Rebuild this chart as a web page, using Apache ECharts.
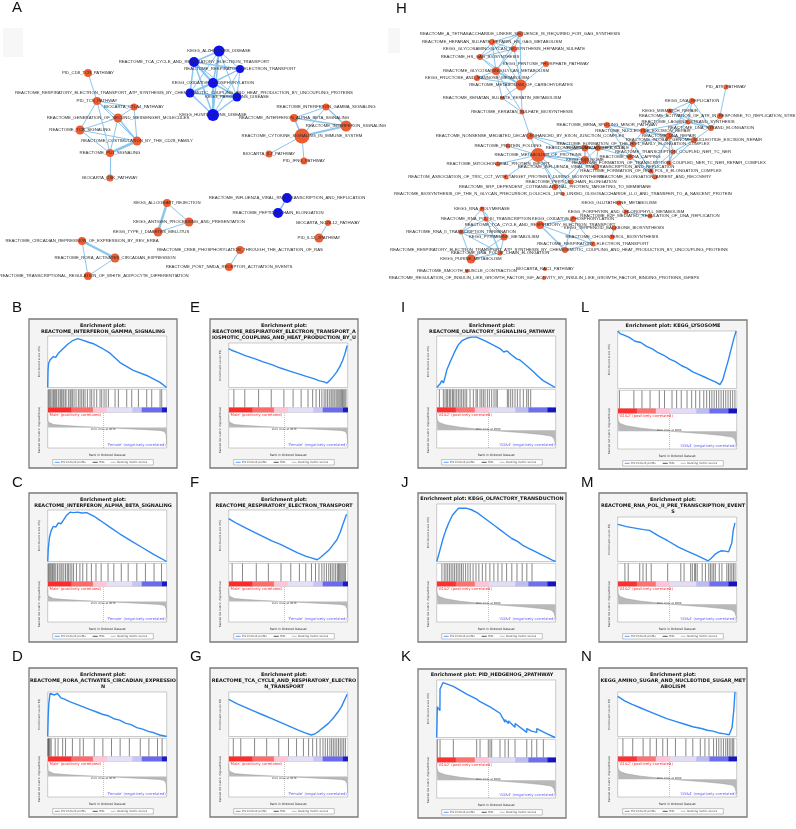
<!DOCTYPE html>
<html><head><meta charset="utf-8">
<script src="https://cdn.jsdelivr.net/npm/echarts@6/dist/echarts.min.js"></script>
<style>html,body{margin:0;padding:0;background:#fff}#c{width:796px;height:829px}</style>
</head><body><div id="c"></div>
<script>
// ======================= DATA =======================
const netANodes = [
 ['PID_CD8_TCR_PATHWAY',88,73,8,'o'],
 ['PID_TCR_PATHWAY',97,101,8,'o'],
 ['BIOCARTA_CTLA4_PATHWAY',134,107,7,'o'],
 ['REACTOME_GENERATION_OF_SECOND_MESSENGER_MOLECULES',118,118,9,'o'],
 ['REACTOME_TCR_SIGNALING',80,130,9,'o'],
 ['REACTOME_COSTIMULATION_BY_THE_CD28_FAMILY',137,141,9,'o'],
 ['REACTOME_PD1_SIGNALING',110,153,8,'o'],
 ['BIOCARTA_CSK_PATHWAY',110,178,7,'o'],
 ['REACTOME_RESPIRATORY_ELECTRON_TRANSPORT_ATP_SYNTHESIS_BY_CHEMIOSMOTIC_COUPLING_AND_HEAT_PRODUCTION_BY_UNCOUPLING_PROTEINS',190,93,9,'b'],
 ['KEGG_ALZHEIMERS_DISEASE',219,51,11,'b'],
 ['REACTOME_TCA_CYCLE_AND_RESPIRATORY_ELECTRON_TRANSPORT',194,62,10,'b'],
 ['REACTOME_RESPIRATORY_ELECTRON_TRANSPORT',240,69,8,'b'],
 ['KEGG_OXIDATIVE_PHOSPHORYLATION',213,83,10,'b'],
 ['KEGG_PARKINSONS_DISEASE',237,97,9,'b'],
 ['KEGG_HUNTINGTONS_DISEASE',213,115,12,'b'],
 ['REACTOME_INTERFERON_GAMMA_SIGNALING',326,107,7,'o'],
 ['REACTOME_INTERFERON_ALPHA_BETA_SIGNALING',294,118,8,'o'],
 ['REACTOME_INTERFERON_SIGNALING',346,126,11,'o'],
 ['REACTOME_CYTOKINE_SIGNALING_IN_IMMUNE_SYSTEM',302,136,15,'o'],
 ['BIOCARTA_IL7_PATHWAY',269,154,7,'o'],
 ['PID_IFNG_PATHWAY',304,161,7,'o'],
 ['KEGG_ALLOGRAFT_REJECTION',167,203,8,'o'],
 ['KEGG_ANTIGEN_PROCESSING_AND_PRESENTATION',189,222,9,'o'],
 ['KEGG_TYPE_I_DIABETES_MELLITUS',158,232,9,'o'],
 ['REACTOME_CIRCADIAN_REPRESSION_OF_EXPRESSION_BY_REV_ERBA',82,241,8,'o'],
 ['REACTOME_RORA_ACTIVATES_CIRCADIAN_EXPRESSION',115,258,9,'o'],
 ['REACTOME_TRANSCRIPTIONAL_REGULATION_OF_WHITE_ADIPOCYTE_DIFFERENTIATION',88,276,8,'o'],
 ['REACTOME_CREB_PHOSPHORYLATION_THROUGH_THE_ACTIVATION_OF_RAS',240,250,8,'o'],
 ['REACTOME_POST_NMDA_RECEPTOR_ACTIVATION_EVENTS',229,267,8,'o'],
 ['REACTOME_INFLUENZA_VIRAL_RNA_TRANSCRIPTION_AND_REPLICATION',287,198,10,'b'],
 ['REACTOME_PEPTIDE_CHAIN_ELONGATION',278,213,10,'b'],
 ['BIOCARTA_NO2IL12_PATHWAY',328,223,6,'o'],
 ['PID_IL12_2PATHWAY',319,238,9,'o']
];
const netAEdges = [
 [0,1,1],[1,2,1],[1,3,1],[1,4,1],[1,6,1],[1,5,1],[2,3,1],[2,5,1],[3,4,1],[3,5,1.5],[3,6,1],[4,6,1],[4,5,1],[5,6,2.5],[6,7,1.2],
 [8,9,1],[8,10,1.5],[8,11,1],[8,12,2],[8,13,1.5],[8,14,1.5],[9,10,1.5],[9,11,1],[9,12,1.5],[9,13,1],[9,14,1.5],
 [10,11,1.5],[10,12,2],[10,13,1],[10,14,1.5],[11,12,1],[11,13,1],[11,14,1],[12,13,1.5],[12,14,2],[13,14,1.5],
 [15,16,1],[15,17,1.5],[15,18,1],[16,17,1.5],[16,18,1.5],[17,18,2],[18,19,1],[18,20,1],
 [21,22,1],[21,23,2.5],[22,23,1],[24,25,2.5],[24,26,1],[25,26,1],[27,28,1],[29,30,1.5],[31,32,1]
];
const netHNodes = [
 ['REACTOME_A_TETRASACCHARIDE_LINKER_SEQUENCE_IS_REQUIRED_FOR_GAG_SYNTHESIS',520,34,6,'o'],
 ['REACTOME_HEPARAN_SULFATE_HEPARIN_HS_GAG_METABOLISM',492,42,6,'o'],
 ['KEGG_GLYCOSAMINOGLYCAN_BIOSYNTHESIS_HEPARAN_SULFATE',514,49,6,'o'],
 ['REACTOME_HS_GAG_BIOSYNTHESIS',480,57,6,'o'],
 ['KEGG_PENTOSE_PHOSPHATE_PATHWAY',546,64,6,'o'],
 ['REACTOME_GLYCOSAMINOGLYCAN_METABOLISM',496,71,8,'o'],
 ['KEGG_FRUCTOSE_AND_MANNOSE_METABOLISM',477,78,6,'o'],
 ['REACTOME_METABOLISM_OF_CARBOHYDRATES',521,85,11,'o'],
 ['REACTOME_KERATAN_SULFATE_KERATIN_METABOLISM',502,98,4,'o'],
 ['REACTOME_KERATAN_SULFATE_BIOSYNTHESIS',522,112,5,'o'],
 ['REACTOME_NONSENSE_MEDIATED_DECAY_ENHANCED_BY_EXON_JUNCTION_COMPLEX',530,136,7,'o'],
 ['REACTOME_PROTEIN_FOLDING',508,146,5,'o'],
 ['REACTOME_METABOLISM_OF_PROTEINS',538,155,14,'o'],
 ['REACTOME_MITOCHONDRIAL_PROTEIN_IMPORT',498,164,5,'o'],
 ['REACTOM_ASSOCIATION_OF_TRIC_CCT_WITH_TARGET_PROTEINS_DURING_BIOSYNTHESIS',506,177,5,'o'],
 ['REACTOME_PEPTIDE_CHAIN_ELONGATION',571,182,5,'o'],
 ['REACTOME_SRP_DEPENDENT_COTRANSLATIONAL_PROTEIN_TARGETING_TO_MEMBRANE',555,187,6,'o'],
 ['REACTOME_BIOSYNTHESIS_OF_THE_N_GLYCAN_PRECURSOR_DOLICHOL_LIPID_LINKED_OLIGOSACCHARIDE_LLO_AND_TRANSFER_TO_A_NASCENT_PROTEIN',563,194,4,'o'],
 ['REACTOME_INFLUENZA_LIFE_CYCLE',585,148,7,'o'],
 ['KEGG_RIBOSOME',585,160,8,'o'],
 ['REACTOME_INFLUENZA_VIRAL_RNA_TRANSCRIPTION_AND_REPLICATION',596,167,6,'o'],
 ['REACTOME_MRNA_SPLICING_MINOR_PATHWAY',607,125,6,'o'],
 ['REACTOME_NUCLEOTIDE_EXCISION_REPAIR',643,131,6,'o'],
 ['REACTOME_DNA_REPAIR',669,136,7,'o'],
 ['REACTOME_GLOBAL_GENOME_NUCLEOTIDE_EXCISION_REPAIR',694,140,6,'o'],
 ['REACTOME_FORMATION_OF_THE_HIV1_EARLY_ELONGATION_COMPLEX',633,144,6,'o'],
 ['REACTOME_HIV_LIFE_CYCLE',598,148,6,'o'],
 ['REACTOME_TRANSCRIPTION_COUPLED_NER_TC_NER',673,152,5,'o'],
 ['REACTOME_MRNA_CAPPING',630,157,6,'o'],
 ['REACTOME_FORMATION_OF_TRANSCRIPTION_COUPLED_NER_TC_NER_REPAIR_COMPLEX',669,163,5,'o'],
 ['REACTOME_FORMATION_OF_RNA_POL_II_ELONGATION_COMPLEX',651,171,5,'o'],
 ['REACTOME_ELONGATION_ARREST_AND_RECOVERY',655,177,5,'o'],
 ['PID_ATR_PATHWAY',726,87,5,'o'],
 ['KEGG_DNA_REPLICATION',692,101,6,'o'],
 ['KEGG_MISMATCH_REPAIR',670,111,5,'o'],
 ['REACTOME_ACTIVATION_OF_ATR_IN_RESPONSE_TO_REPLICATION_STRESS',720,116,6,'o'],
 ['REACTOME_LAGGING_STRAND_SYNTHESIS',688,122,5,'o'],
 ['REACTOME_DNA_STRAND_ELONGATION',711,128,6,'o'],
 ['KEGG_GLUTATHIONE_METABOLISM',619,203,5,'o'],
 ['KEGG_PORPHYRIN_AND_CHLOROPHYLL_METABOLISM',626,212,5,'o'],
 ['REACTOME_E2F_MEDIATED_REGULATION_OF_DNA_REPLICATION',650,216,5,'o'],
 ['KEGG_TERPENOID_BACKBONE_BIOSYNTHESIS',614,228,5,'o'],
 ['REACTOME_CHOLESTEROL_BIOSYNTHESIS',612,237,5,'o'],
 ['KEGG_OXIDATIVE_PHOSPHORYLATION',573,219,6,'o'],
 ['REACTOME_TCA_CYCLE_AND_RESPIRATORY_ELECTRON_TRANSPORT',540,225,8,'o'],
 ['REACTOME_RESPIRATORY_ELECTRON_TRANSPORT',593,244,5,'o'],
 ['REACTOME_RESPIRATORY_ELECTRON_TRANSPORT_ATP_SYNTHESIS_BY_CHEMIOSMOTIC_COUPLING_AND_HEAT_PRODUCTION_BY_UNCOUPLING_PROTEINS',565,250,6,'o'],
 ['KEGG_RNA_POLYMERASE',482,209,5,'o'],
 ['REACTOME_RNA_POL_III_TRANSCRIPTION',486,219,5,'o'],
 ['REACTOME_RNA_II_TRANSCRIPTION_TERMINATION',461,232,5,'o'],
 ['KEGG_PYRIMIDINE_METABOLISM',504,237,7,'o'],
 ['REACTOME_RNA_POL_III_CHAIN_ELONGATION',500,253,5,'o'],
 ['KEGG_PURINE_METABOLISM',471,259,9,'o'],
 ['REACTOME_SMOOTH_MUSCLE_CONTRACTION',467,271,4,'o'],
 ['BIOCARTA_RAC1_PATHWAY',545,269,4,'o'],
 ['REACTOME_REGULATION_OF_INSULIN_LIKE_GROWTH_FACTOR_IGF_ACTIVITY_BY_INSULIN_LIKE_GROWTH_FACTOR_BINDING_PROTEINS_IGFBPS',544,278,4,'o']
];
const netHEdges = [
 [0,1,1],[0,2,1],[0,3,1],[0,5,1],[0,7,1],[1,2,1],[1,3,1],[1,5,1],[1,7,1],[2,3,1],[2,5,1],[2,7,1],[3,5,1],[3,7,1],
 [5,6,1],[5,7,1.5],[6,7,1],[4,7,1],[5,8,1],[7,8,1],[7,9,1],[8,9,1],[5,9,1],[9,10,1],
 [10,12,1],[11,12,1],[12,13,1],[12,14,1],[12,15,1],[12,16,1],[12,17,1],[10,18,1],[10,19,1],[12,18,1],[12,19,1.5],[12,20,1],
 [15,19,1],[16,19,1],[15,16,1],[18,19,1.5],[18,20,1],[19,20,1],[18,26,1],[20,26,1],[19,26,1],
 [21,22,1],[21,25,1],[21,28,1],[22,23,1.5],[22,24,1],[22,27,1],[23,24,1],[23,27,1],[23,29,1],[24,27,1],[24,29,1],[27,29,1.5],
 [25,28,1],[25,30,1],[25,31,1],[28,30,1],[28,31,1],[30,31,1],[25,26,1],[26,28,1],[22,25,1],[23,25,1],[23,30,1],[27,30,1],
 [32,35,1],[33,34,1],[33,36,1],[33,37,1],[34,36,1],[34,37,1],[36,37,1.5],[35,37,1],[33,23,1],[36,23,1],[34,22,1],[37,24,1],[36,22,1],
 [38,39,1],[39,40,1],[41,42,1],
 [43,44,1],[43,45,1],[43,46,1],[44,45,1],[44,46,1.5],[45,46,1],
 [47,48,1],[47,49,1],[47,50,1],[47,51,1],[48,49,1],[48,50,1],[48,51,1],[49,50,1],[49,51,1],[49,52,1],[50,51,1],[50,52,1],[51,52,1]
];

const rankTicks = [0,2500,5000,7500,10000,12500,15000,17500,20000];

// Enrichment score curves: [rank, ES]
const esB = [[0,0],[60,0.2],[150,0.28],[400,0.32],[975,0.36],[1400,0.35],[1850,0.4],[2140,0.38],[2715,0.455],[3580,0.51],[4450,0.55],[5220,0.57],[5910,0.555],[7000,0.53],[7930,0.51],[9400,0.46],[10840,0.4],[12580,0.29],[14890,0.2],[17220,0.14],[19540,0.06],[20700,0]];
const esC = [[0,0],[100,0.15],[300,0.28],[600,0.36],[975,0.41],[1400,0.4],[1845,0.45],[2300,0.44],[2715,0.48],[3300,0.54],[3880,0.575],[4500,0.57],[5200,0.575],[5900,0.565],[6780,0.57],[8000,0.53],[9100,0.48],[10800,0.4],[12580,0.32],[14500,0.24],[16500,0.16],[18500,0.08],[20700,0]];
const esD = [[0,0],[80,0.25],[200,0.45],[400,0.58],[700,0.6],[1200,0.56],[1700,0.58],[2300,0.52],[3000,0.5],[3800,0.47],[4500,0.45],[5500,0.42],[6500,0.39],[7500,0.36],[8500,0.33],[9500,0.3],[10500,0.28],[11500,0.24],[12500,0.22],[13500,0.18],[14500,0.16],[15500,0.12],[16500,0.1],[17500,0.07],[18500,0.05],[19500,0.02],[20700,0]];
const esE = [[0,0],[500,-0.03],[1500,-0.07],[3000,-0.13],[4500,-0.18],[6000,-0.24],[7500,-0.29],[9000,-0.35],[10500,-0.4],[12000,-0.45],[13500,-0.5],[14800,-0.54],[15800,-0.58],[16600,-0.6],[17100,-0.62],[17600,-0.57],[18200,-0.5],[18800,-0.42],[19300,-0.33],[19800,-0.22],[20200,-0.1],[20600,0.05]];
const esF = [[0,0],[500,-0.02],[1500,-0.06],[3000,-0.11],[4500,-0.16],[6000,-0.21],[7500,-0.26],[9000,-0.3],[10500,-0.35],[12000,-0.4],[13500,-0.44],[14500,-0.46],[15400,-0.48],[16000,-0.45],[16700,-0.41],[17400,-0.37],[18100,-0.31],[18800,-0.25],[19400,-0.16],[19900,-0.06],[20500,0.05]];
const esG = [[0,0],[500,-0.02],[1500,-0.06],[3000,-0.11],[4500,-0.16],[6000,-0.21],[7500,-0.26],[9000,-0.31],[10500,-0.36],[12000,-0.41],[13300,-0.45],[14400,-0.48],[15100,-0.46],[15800,-0.42],[16600,-0.37],[17400,-0.32],[18200,-0.25],[19000,-0.17],[19600,-0.1],[20200,0.0],[20600,0.07]];
const esI = [[0,0],[300,0.01],[570,0.03],[865,0.06],[1150,0.04],[1450,0.09],[1730,0.15],[2300,0.22],[3000,0.3],[3700,0.37],[4400,0.41],[5200,0.43],[6000,0.44],[6900,0.44],[7800,0.42],[8650,0.4],[9800,0.37],[10950,0.34],[11600,0.31],[12200,0.32],[12800,0.29],[13850,0.25],[14400,0.24],[15580,0.19],[16700,0.14],[17500,0.1],[18430,0.06],[19500,0.03],[20500,0]];
const esJ = [[0,0],[300,0.04],[700,0.1],[1100,0.16],[1600,0.22],[2100,0.27],[2700,0.32],[3300,0.35],[3800,0.37],[4500,0.37],[5200,0.37],[6000,0.36],[7000,0.34],[8000,0.31],[9000,0.28],[10000,0.25],[11000,0.22],[12000,0.19],[13000,0.16],[14000,0.14],[15000,0.11],[16000,0.09],[17000,0.07],[18000,0.05],[19000,0.03],[20000,0.01],[20600,0]];
const esK = [[0,0],[110,0.24],[560,0.21],[580,0.38],[1100,0.43],[2880,0.4],[2900,0.41],[5200,0.34],[6920,0.3],[7500,0.28],[9230,0.24],[9520,0.24],[10960,0.19],[11820,0.12],[11840,0.14],[12400,0.11],[12420,0.13],[13560,0.08],[13580,0.11],[15580,0.04],[15600,0.07],[16440,0.05],[16460,0.06],[17310,0.04],[17330,0.07],[19040,0.03],[20480,0]];
const esL = [[0,0],[400,-0.02],[1000,-0.03],[2000,-0.05],[3000,-0.08],[4000,-0.09],[5000,-0.12],[6000,-0.14],[7000,-0.17],[8000,-0.19],[9000,-0.22],[10000,-0.24],[11000,-0.27],[12000,-0.29],[13000,-0.32],[14000,-0.34],[15000,-0.36],[16000,-0.38],[17000,-0.4],[17700,-0.42],[18200,-0.38],[18700,-0.3],[19200,-0.22],[19700,-0.13],[20100,-0.06],[20500,0.0]];
const esM = [[0,0],[600,-0.01],[1500,-0.03],[3000,-0.05],[4500,-0.07],[5500,-0.08],[7000,-0.15],[8650,-0.22],[10600,-0.31],[12000,-0.36],[13500,-0.41],[14600,-0.45],[15650,-0.49],[16000,-0.47],[16400,-0.44],[16900,-0.4],[17500,-0.37],[18000,-0.355],[18600,-0.36],[19200,-0.37],[19500,-0.3],[19750,-0.25],[20000,-0.08],[20300,0.02]];
const esN = [[0,0.05],[300,0.03],[1200,0.0],[2500,-0.04],[4000,-0.08],[5500,-0.12],[7000,-0.16],[8500,-0.2],[10000,-0.23],[11500,-0.26],[13000,-0.29],[14500,-0.31],[15500,-0.33],[16500,-0.34],[17500,-0.36],[18500,-0.37],[19300,-0.38],[19800,-0.3],[20100,-0.1],[20300,0.1]];

// Hit positions (ranks of gene-set members)
const hitsB = [116,290,522,754,986,1160,1392,1566,1856,2146,2320,2494,2726,3016,3190,3596,3886,4060,4292,4582,4930,5336,5626,5916,6206,6496,6902,7366,7656,8062,8526,9106,9396,9802,10150,10556,11716,12296,13746,14616,15776,17226,18096,19546,19836];
const hitsC = [100,250,420,600,800,950,1150,1400,1700,2000,2300,2500,2800,3100,3400,3600,3900,4200,4500,5000,5600,6100,6800,7600,8400,9300,10500,11500,12800,14000,15500,17000,18500,19800];
const hitsD = [40,120,250,400,600,1300,1800,2600,3100,4300,5600,6200,8100,9600,11100,12600,14200,16100,17600,19100,19900];
const hitsE = [900,2800,5200,7400,9600,11200,12600,13800,14600,15200,15800,16200,16600,16900,17200,17500,17800,18000,18300,18500,18800,19000,19200,19400,19600,19800,20000,20200,20400];
const hitsF = [600,2400,4800,6900,9100,10800,12300,13400,14400,15100,15700,16200,16600,17000,17400,17700,18000,18300,18600,18900,19100,19300,19500,19700,19900,20100,20300];
const hitsG = [800,2100,4500,6600,8700,10400,11800,13000,13900,14600,15300,15900,16400,16800,17200,17600,17900,18200,18500,18800,19100,19400,19700,20000,20300];
const hitsI = [456,1148,1437,1731,1904,2193,2424,2713,2886,3174,3462,3751,4040,4328,4617,4905,5193,5770,6347,6809,7040,7501,7790,8078,8367,8771,9117,9521,9925,10271,10502,12233,12464,12810,13156,13560,13964,14425,15002,15579,15868,16272];
const hitsJ = [900,1300,1600,1900,2200,2500,2800,3100,3400,3700,4000,4300,4600,5000,5400,5800,6300,6800,7300,7900,8500,9200,9900,10600,11300,12100,13000,13900,14800,15600,16500];
const hitsK = [110,577,2880,6920,7500,8930,9230,9520,10960,11820,12400,13560,15590,16450,17320,18460];
const hitsL = [300,2800,4200,5600,7200,8100,9400,10200,11000,12000,12800,13500,14200,14900,15400,15900,16300,16700,17100,17500,17900,18300,18700,19100,19500,19900,20300];
const hitsM = [1250,1820,3812,4380,4950,5800,8650,10925,11490,12630,12920,13315,13485,13770,14630,15190,15760,16046,16330,16615,16900,17580,18040,18890,19175,19460,19750,20030,20310];
const hitsN = [900,2600,4400,5600,6700,7800,8600,10000,11800,13000,14300,15100,15800,16600,17100,17500,17900,18300,18700,19000,19300,19600,19900,20100];

// Ranked list metric (Signal2Noise) profiles: [rank, metric]
const metricMaleFemale = [[0,1.3],[20,0.8],[80,0.55],[300,0.4],[1000,0.3],[3000,0.2],[6000,0.1],[9670,0],[12000,-0.06],[14500,-0.13],[17000,-0.2],[19500,-0.28],[20300,-0.38],[20600,-0.7],[20700,-1.6]];
const metricG = [[0,2.9],[20,2.2],[100,1.7],[400,1.3],[1500,0.9],[4000,0.5],[7000,0.18],[8900,0],[12000,-0.22],[15000,-0.45],[18000,-0.72],[19800,-1.0],[20300,-1.4],[20600,-2.5]];

const titles = {
 B:['Enrichment plot:','REACTOME_INTERFERON_GAMMA_SIGNALING'],
 E:['Enrichment plot:','REACTOME_RESPIRATORY_ELECTRON_TRANSPORT_A','IOSMOTIC_COUPLING_AND_HEAT_PRODUCTION_BY_U'],
 I:['Enrichment plot:','REACTOME_OLFACTORY_SIGNALING_PATHWAY'],
 L:['Enrichment plot: KEGG_LYSOSOME'],
 C:['Enrichment plot:','REACTOME_INTERFERON_ALPHA_BETA_SIGNALING'],
 F:['Enrichment plot:','REACTOME_RESPIRATORY_ELECTRON_TRANSPORT'],
 J:['Enrichment plot: KEGG_OLFACTORY_TRANSDUCTION'],
 M:['Enrichment plot:','REACTOME_RNA_POL_II_PRE_TRANSCRIPTION_EVENT','S'],
 D:['Enrichment plot:','REACTOME_RORA_ACTIVATES_CIRCADIAN_EXPRESSIO','N'],
 G:['Enrichment plot:','REACTOME_TCA_CYCLE_AND_RESPIRATORY_ELECTRO','N_TRANSPORT'],
 K:['Enrichment plot: PID_HEDGEHOG_2PATHWAY'],
 N:['Enrichment plot:','KEGG_AMINO_SUGAR_AND_NUCLEOTIDE_SUGAR_MET','ABOLISM']
};
const classMF = ["'Male' (positively correlated)","'Female' (negatively correlated)","Zero cross at 9670"];
const classG = ["'G1&2' (positively correlated)","'G3&4' (negatively correlated)","Zero cross at 8900"];
const legendItems = ['Enrichment profile','Hits','Ranking metric scores'];

// ======================= STYLE / LAYOUT =======================
const ORANGE = '#ee5d32', BLUE = '#1010ee', EDGE = '#8cc6ee';
const FN = 'Liberation Sans, Arial, sans-serif';
const FG = 'DejaVu Sans, Verdana, sans-serif';
const labelShift = {
 'REACTOME_RESPIRATORY_ELECTRON_TRANSPORT_ATP_SYNTHESIS_BY_CHEMIOSMOTIC_COUPLING_AND_HEAT_PRODUCTION_BY_UNCOUPLING_PROTEINS':-6,
 'KEGG_TYPE_I_DIABETES_MELLITUS':-7,
 'REACTOME_TRANSCRIPTIONAL_REGULATION_OF_WHITE_ADIPOCYTE_DIFFERENTIATION':6
};
const barMF = [[0,0.2,'#ff2a2a'],[0.2,0.38,'#ff6a6a'],[0.38,0.5,'#ffc6d8'],[0.5,0.71,'#e4e0f8'],[0.71,0.79,'#c6c6f6'],[0.79,0.96,'#6a6af0'],[0.96,1,'#1a1ac8']];
const barG = [[0,0.16,'#ff3030'],[0.16,0.32,'#ff7070'],[0.32,0.44,'#ffc4dc'],[0.44,0.66,'#e2dcf6'],[0.66,0.77,'#bcbcf4'],[0.77,0.93,'#6e6ef0'],[0.93,1,'#1414c0']];

const MF = {n:20700,metric:metricMaleFemale,cls:classMF,zero:9670,mMin:-2,mMax:1.5,mStep:0.5,mDec:1,bar:barMF};
const GG = {n:20600,metric:metricG,cls:classG,zero:8900,mMin:-3,mMax:3,mStep:1,mDec:0,bar:barG};
const panels = [
 Object.assign({id:'B',fx:29, fy:319,es:esB,hits:hitsB,esMin:0,esMax:0.6,esStep:0.1,dec:1},MF),
 Object.assign({id:'E',fx:210,fy:319,es:esE,hits:hitsE,esMin:-0.7,esMax:0.1,esStep:0.1,dec:1},MF),
 Object.assign({id:'I',fx:418,fy:319,es:esI,hits:hitsI,esMin:0,esMax:0.45,esStep:0.05,dec:2},GG),
 Object.assign({id:'L',fx:599,fy:320,es:esL,hits:hitsL,esMin:-0.45,esMax:0.0,esStep:0.05,dec:2},GG),
 Object.assign({id:'C',fx:29, fy:493,es:esC,hits:hitsC,esMin:0,esMax:0.6,esStep:0.1,dec:1},MF),
 Object.assign({id:'F',fx:210,fy:493,es:esF,hits:hitsF,esMin:-0.5,esMax:0.1,esStep:0.1,dec:1},MF),
 Object.assign({id:'J',fx:418,fy:493,es:esJ,hits:hitsJ,esMin:0,esMax:0.4,esStep:0.05,dec:2},GG),
 Object.assign({id:'M',fx:599,fy:493,es:esM,hits:hitsM,esMin:-0.5,esMax:0.1,esStep:0.1,dec:1},GG),
 Object.assign({id:'D',fx:29, fy:668,es:esD,hits:hitsD,esMin:0,esMax:0.6,esStep:0.1,dec:1},MF),
 Object.assign({id:'G',fx:210,fy:668,es:esG,hits:hitsG,esMin:-0.5,esMax:0.1,esStep:0.1,dec:1},MF),
 Object.assign({id:'K',fx:418,fy:669,es:esK,hits:hitsK,esMin:0,esMax:0.45,esStep:0.05,dec:2},GG),
 Object.assign({id:'N',fx:599,fy:668,es:esN,hits:hitsN,esMin:-0.4,esMax:0.1,esStep:0.1,dec:1},GG)
];
const letters = [['A',12,1],['H',396,2],['B',12,301],['E',190,301],['I',401,301],['L',581,301],['C',12,476],['F',190,476],['J',401,476],['M',581,476],['D',12,650],['G',190,650],['K',401,650],['N',581,650]];

// ======================= BUILD =======================
const grids=[], xAxes=[], yAxes=[], series=[], graphics=[];
function addGrid(g,xa,ya){grids.push(g);const i=grids.length-1;xa.gridIndex=i;ya.gridIndex=i;xAxes.push(xa);yAxes.push(ya);return i;}
function txt(x,y,text,o){o=o||{};graphics.push({type:'text',x:x,y:y,rotation:o.rot||0,silent:true,z:o.z||20,
 style:{text:text,x:0,y:0,align:o.align||'left',verticalAlign:'middle',fontSize:o.size||4,fontFamily:o.family||FG,fontWeight:o.weight||'normal',fill:o.color||'#222'}});}
const fmtRank = v => String(v).replace(/\B(?=(\d{3})+(?!\d))/g, ',');

const gNet = addGrid({left:0,top:0,width:796,height:300,show:false},
 {type:'value',min:0,max:796,show:false},{type:'value',min:0,max:300,inverse:true,show:false});
function netSeries(nodes,edges){
 return {type:'graph',coordinateSystem:'cartesian2d',xAxisIndex:gNet,yAxisIndex:gNet,silent:true,animation:false,
  data:nodes.map(n=>({name:n[0],value:[n[1],n[2]],symbolSize:n[3],
    itemStyle:{color:n[4]==='b'?BLUE:ORANGE},
    label:labelShift[n[0]]?{offset:[labelShift[n[0]],0]}:undefined})),
  links:edges.map(e=>({source:e[0],target:e[1],lineStyle:{width:e[2]}})),
  lineStyle:{color:EDGE,opacity:1,width:1,curveness:0},
  label:{show:true,position:'inside',fontSize:4.3,color:'#2a2a2a',fontFamily:FN},
  emphasis:{disabled:true},z:3};
}
series.push(netSeries(netANodes,netAEdges));
series.push(netSeries(netHNodes,netHEdges));
graphics.push({type:'rect',shape:{x:3,y:28,width:20,height:29},style:{fill:'#f7f7f7'},silent:true,z:0});
graphics.push({type:'rect',shape:{x:388,y:28,width:12,height:25},style:{fill:'#f7f7f7'},silent:true,z:0});

letters.forEach(l=>txt(l[1],l[2]+7,l[0],{size:15,family:'Liberation Sans, Arial',color:'#111'}));

const FW=148,FH=149,PL=18.7,PW=119;
panels.forEach(p=>{
 const fx=p.fx, fy=p.fy, nt=titles[p.id].length;
 graphics.push({type:'rect',shape:{x:fx,y:fy,width:FW,height:FH},style:{fill:'#f4f4f4',stroke:'#7a7a7a',lineWidth:1.3},silent:true,z:1});
 const ty = nt===1?5.7:6.7, esTop = nt===1?11:(nt===2?17:24);
 titles[p.id].forEach((t,i)=>txt(fx+FW/2,fy+ty+i*6,t,{align:'center',size:4.9,weight:'bold',color:'#111'}));
 const x0=fx+PL;
 const hideAx={axisLabel:{show:false},axisTick:{show:false},axisLine:{show:false}};
 const g1=addGrid({left:x0,top:fy+esTop,width:PW,height:68.5-esTop,show:true,backgroundColor:'#fff',borderColor:'#9a9a9a',borderWidth:0.5,z:2},
  Object.assign({type:'value',min:0,max:p.n,interval:rankTicks[1]-rankTicks[0],splitLine:{show:true,lineStyle:{color:'#e2e2e2',width:0.5}}},hideAx),
  {type:'value',min:p.esMin,max:p.esMax,interval:p.esStep,axisLine:{show:false},
   axisTick:{show:true,length:1,lineStyle:{color:'#777',width:0.4}},
   axisLabel:{show:true,fontSize:2.6,margin:1.2,color:'#333',fontFamily:FG,formatter:v=>v.toFixed(p.dec)},
   splitLine:{show:true,lineStyle:{color:'#e2e2e2',width:0.5}}});
 series.push({type:'line',xAxisIndex:g1,yAxisIndex:g1,data:p.es,symbol:'none',lineStyle:{color:'#2a88f5',width:1.4},silent:true,animation:false,z:5});
 const g2=addGrid({left:x0,top:fy+70.5,width:PW,height:18,show:true,backgroundColor:'#fff',borderColor:'#b0b0b0',borderWidth:0.5,z:2},
  Object.assign({type:'value',min:0,max:p.n,splitLine:{show:false}},hideAx),
  Object.assign({type:'value',min:0,max:1,splitLine:{show:false}},hideAx));
 series.push({type:'custom',xAxisIndex:g2,yAxisIndex:g2,silent:true,animation:false,z:5,data:p.hits.map(h=>[h]),
  renderItem:(params,api)=>{const x=api.coord([api.value(0),0])[0];const cs=params.coordSys;
   return {type:'line',shape:{x1:x,y1:cs.y,x2:x,y2:cs.y+cs.height},style:{stroke:'#222',lineWidth:0.55}};}});
 const g3=addGrid({left:x0,top:fy+88.5,width:PW,height:4.8,show:false},
  Object.assign({type:'value',min:0,max:p.n,splitLine:{show:false}},hideAx),
  Object.assign({type:'value',min:0,max:1,splitLine:{show:false}},hideAx));
 const bar=p.bar;
 series.push({type:'custom',xAxisIndex:g3,yAxisIndex:g3,silent:true,animation:false,z:5,
  data:bar.map(s=>[s[0]*p.n,s[1]*p.n]),
  renderItem:(params,api)=>{const a=api.coord([api.value(0),1]),b=api.coord([api.value(1),0]);
   return {type:'rect',shape:{x:a[0],y:a[1],width:b[0]-a[0]+0.3,height:b[1]-a[1]},style:{fill:bar[params.dataIndex][2]}};}});
 const g4=addGrid({left:x0,top:fy+93.3,width:PW,height:35.7,show:true,backgroundColor:'#fff',borderColor:'#9a9a9a',borderWidth:0.5,z:2},
  {type:'value',min:0,max:p.n,interval:rankTicks[1]-rankTicks[0],axisLine:{show:false},
   axisTick:{show:true,length:1,lineStyle:{color:'#777',width:0.4}},
   axisLabel:{show:true,fontSize:2.6,margin:1.3,color:'#333',fontFamily:FG,showMaxLabel:false,
     formatter:v=>rankTicks.indexOf(v)>=0?fmtRank(v):''},
   splitLine:{show:false}},
  {type:'value',min:p.mMin,max:p.mMax,interval:p.mStep,axisLine:{show:false},
   axisTick:{show:true,length:1,lineStyle:{color:'#777',width:0.4}},
   axisLabel:{show:true,fontSize:2.6,margin:1.2,color:'#333',fontFamily:FG,showMinLabel:false,formatter:v=>v.toFixed(p.mDec)},
   splitLine:{show:false}});
 series.push({type:'line',xAxisIndex:g4,yAxisIndex:g4,data:p.metric,symbol:'none',silent:true,animation:false,z:4,
  lineStyle:{color:'#9a9a9a',width:0.5},areaStyle:{color:'#b9b9b9',opacity:1},
  markLine:{silent:true,symbol:'none',label:{show:false},lineStyle:{color:'#888',type:[1,1],width:0.5},data:[{xAxis:p.zero}]}});
 txt(x0+1,fy+95.6,p.cls[0],{size:3.7,color:'#ff2a2a'});
 txt(x0+PW-1,fy+126,p.cls[1],{size:3.7,color:'#5a5af5',align:'right'});
 txt(x0+PW*p.zero/p.n,fy+110.5,p.cls[2],{size:2.6,align:'center',color:'#333'});
 txt(x0+PW/2,fy+135.8,'Rank in Ordered Dataset',{size:3,align:'center',color:'#333'});
 txt(fx+10.3,fy+(esTop+68.5)/2,'Enrichment score (ES)',{size:2.8,align:'center',rot:Math.PI/2,color:'#333'});
 txt(fx+10.3,fy+111,'Ranked list metric (Signal2Noise)',{size:2.8,align:'center',rot:Math.PI/2,color:'#333'});
 const lx=fx+23.7, ly=fy+140.6;
 graphics.push({type:'rect',shape:{x:lx,y:ly,width:100.6,height:5.4},style:{fill:'#fff',stroke:'#8a8a8a',lineWidth:0.5},silent:true,z:15});
 const items=[[lx+2,'#2a88f5',legendItems[0]],[lx+40,'#222',legendItems[1]],[lx+58,'#aaa',legendItems[2]]];
 items.forEach(it=>{graphics.push({type:'line',shape:{x1:it[0],y1:ly+2.7,x2:it[0]+5,y2:ly+2.7},style:{stroke:it[1],lineWidth:0.8},silent:true,z:16});
   txt(it[0]+6.5,ly+2.8,it[2],{size:2.7,color:'#333'});});
});

const chart = echarts.init(document.getElementById('c'),null,{renderer:'canvas',width:796,height:829});
chart.setOption({backgroundColor:'#fff',animation:false,grid:grids,xAxis:xAxes,yAxis:yAxes,series:series,graphic:{elements:graphics}});
</script></body></html>
